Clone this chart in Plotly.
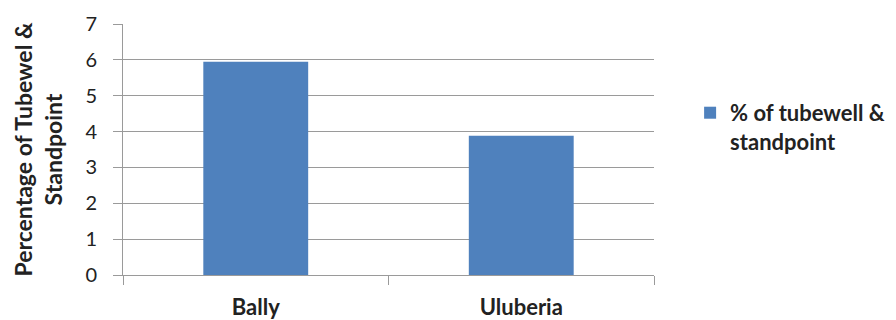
import plotly.graph_objects as go

categories = ["Bally", "Uluberia"]
values = [5.95, 3.88]
series_name = "% of tubewell &<br>standpoint"
y_title = "Percentage of Tubewel &<br>Standpoint"
y_ticks = [0, 1, 2, 3, 4, 5, 6, 7]

grid = "#9a9a9a"
fig = go.Figure()
fig.add_trace(go.Bar(x=categories, y=values, name=series_name,
                     marker=dict(color="#4F81BD", line=dict(width=0)),
                     showlegend=True))

fig.update_layout(
    width=896, height=320,
    margin=dict(l=123, r=242, t=24, b=45, autoexpand=False),
    paper_bgcolor="white", plot_bgcolor="white",
    bargap=0.605,
    font=dict(family="Lato", color="#222"),
    legend=dict(x=1.068, y=0.588, xanchor="left", yanchor="middle",
                valign="top", font=dict(family="Lato", size=22, color="#222", weight="bold"),
                bgcolor="rgba(0,0,0,0)", borderwidth=0, itemsizing="constant"),
    showlegend=True,
)
fig.update_yaxes(range=[0, 7], tickvals=y_ticks, ticktext=[str(v) for v in y_ticks],
                 showgrid=True, gridcolor=grid, gridwidth=1,
                 showline=True, linecolor=grid, linewidth=1,
                 ticks="outside", ticklen=9, tickcolor=grid, tickwidth=1,
                 ticklabelstandoff=12,
                 tickfont=dict(family="Lato", size=20, color="#222"),
                 zeroline=False,
                 title=dict(text=y_title, standoff=16,
                            font=dict(family="Lato", size=23, color="#222", weight="bold")),
                 automargin=False)
fig.update_xaxes(showline=True, linecolor=grid, linewidth=1,
                 ticks="outside", ticklen=9, tickcolor=grid, tickwidth=1,
                 tickson="boundaries", ticklabelstandoff=13,
                 tickfont=dict(family="Lato", size=22, color="#222", weight="bold"),
                 automargin=False)

fig.write_html("out.html")
